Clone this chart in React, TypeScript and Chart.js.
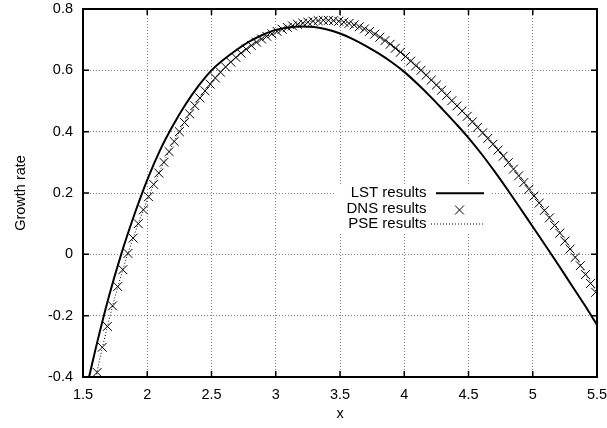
import React, { useEffect, useRef } from "react";
import { Chart, registerables } from "chart.js";

Chart.register(...registerables);

// ---- tick values ----
const xTicks = [1.5, 2, 2.5, 3, 3.5, 4, 4.5, 5, 5.5];
const yTicks = [-0.4, -0.2, 0, 0.2, 0.4, 0.6, 0.8];

// ---- series labels ----
const seriesLabels = ["LST results", "DNS results", "PSE results"];

// ---- LST results (solid line) ----
const lstX = [
  1.54, 1.55, 1.6, 1.7, 1.8, 1.9, 2.0, 2.1, 2.2, 2.3, 2.4, 2.5, 2.6, 2.7, 2.8, 2.9,
  3.0, 3.1, 3.2, 3.3, 3.4, 3.5, 3.6, 3.7, 3.8, 3.9, 4.0, 4.1, 4.2, 4.3, 4.4, 4.5,
  4.6, 4.7, 4.8, 4.9, 5.0, 5.1, 5.2, 5.3, 5.4, 5.5,
];
const lstY = [
  -0.412, -0.395, -0.305, -0.14, 0.004, 0.13, 0.243, 0.34, 0.42, 0.49, 0.55, 0.6, 0.637,
  0.668, 0.695, 0.716, 0.732, 0.74, 0.743, 0.741, 0.733, 0.72, 0.702, 0.68, 0.655, 0.627,
  0.595, 0.557, 0.516, 0.472, 0.427, 0.38, 0.328, 0.272, 0.213, 0.152, 0.09, 0.028,
  -0.035, -0.099, -0.163, -0.23,
];

// ---- DNS results (x markers) ----
const dnsX = [
  1.61, 1.65, 1.69, 1.73, 1.77, 1.81, 1.85, 1.89, 1.93, 1.97, 2.01, 2.05, 2.09, 2.13,
  2.17, 2.21, 2.25, 2.29, 2.33, 2.37, 2.41, 2.45, 2.49, 2.53, 2.57, 2.61, 2.65, 2.69,
  2.73, 2.77, 2.81, 2.85, 2.89, 2.93, 2.97, 3.01, 3.05, 3.09, 3.13, 3.17, 3.21, 3.25,
  3.29, 3.33, 3.37, 3.41, 3.45, 3.49, 3.53, 3.57, 3.61, 3.65, 3.69, 3.73, 3.77, 3.81,
  3.85, 3.89, 3.93, 3.97, 4.01, 4.05, 4.09, 4.13, 4.17, 4.21, 4.25, 4.29, 4.33, 4.37,
  4.41, 4.45, 4.49, 4.53, 4.57, 4.61, 4.65, 4.69, 4.73, 4.77, 4.81, 4.85, 4.89, 4.93,
  4.97, 5.01, 5.05, 5.09, 5.13, 5.17, 5.21, 5.25, 5.29, 5.33, 5.37, 5.41, 5.45, 5.49,
];
const dnsY = [
  -0.385, -0.303, -0.235, -0.168, -0.105, -0.05, 0.003, 0.053, 0.1, 0.145, 0.188, 0.228,
  0.265, 0.3, 0.335, 0.368, 0.4, 0.43, 0.458, 0.485, 0.51, 0.533, 0.555, 0.575, 0.594,
  0.611, 0.627, 0.642, 0.656, 0.669, 0.681, 0.692, 0.702, 0.711, 0.719, 0.727, 0.734,
  0.74, 0.745, 0.75, 0.754, 0.757, 0.76, 0.762, 0.763, 0.763, 0.762, 0.76, 0.757, 0.753,
  0.748, 0.742, 0.735, 0.727, 0.718, 0.708, 0.697, 0.685, 0.672, 0.659, 0.645, 0.63,
  0.615, 0.6, 0.584, 0.568, 0.552, 0.535, 0.518, 0.501, 0.484, 0.467, 0.45, 0.432, 0.414,
  0.396, 0.378, 0.359, 0.34, 0.32, 0.299, 0.278, 0.256, 0.234, 0.212, 0.19, 0.167, 0.143,
  0.119, 0.094, 0.069, 0.043, 0.017, -0.01, -0.037, -0.066, -0.095, -0.124,
];

// ---- PSE results (dotted line) ----
const pseX = [
  1.59, 1.6, 1.7, 1.8, 1.9, 2.0, 2.1, 2.2, 2.3, 2.4, 2.5, 2.6, 2.7, 2.8, 2.9, 3.0, 3.1,
  3.2, 3.3, 3.4, 3.5, 3.6, 3.7, 3.8, 3.9, 4.0, 4.1, 4.2, 4.3, 4.4, 4.5, 4.6, 4.7, 4.8,
  4.9, 5.0, 5.1, 5.2, 5.3, 5.4, 5.5,
];
const pseY = [
  -0.42, -0.4, -0.218, -0.064, 0.065, 0.177, 0.274, 0.36, 0.437, 0.504, 0.56, 0.607,
  0.646, 0.678, 0.704, 0.725, 0.741, 0.753, 0.761, 0.764, 0.761, 0.751, 0.736, 0.714,
  0.686, 0.653, 0.616, 0.577, 0.536, 0.493, 0.45, 0.405, 0.359, 0.309, 0.256, 0.201,
  0.142, 0.08, 0.015, -0.054, -0.126,
];

const FONT = '"Liberation Sans", Arial, Helvetica, sans-serif';
const MARKER_R = 6.3;

const toPoints = (xs: number[], ys: number[]) => xs.map((x, i) => ({ x, y: ys[i] }));

const keyPlugin = {
  id: "gnuplotKey",
  afterDatasetsDraw(chart: any) {
    const { ctx, chartArea } = chart;
    const { left, top } = chartArea;
    ctx.save();
    const textRight = left + 343.5;
    const sampleL = left + 353;
    const sampleR = left + 401;
    const rows = [top + 184.3, top + 199.5, top + 214.5];
    ctx.fillStyle = "#ffffff";
    ctx.fillRect(left + 253, top + 176, 155, 49);
    ctx.fillStyle = "#000";
    ctx.font = `15px ${FONT}`;
    ctx.textAlign = "right";
    ctx.textBaseline = "middle";
    seriesLabels.forEach((t, i) => ctx.fillText(t, textRight, rows[i]));
    ctx.strokeStyle = "#000";
    ctx.lineWidth = 2;
    ctx.setLineDash([]);
    ctx.beginPath();
    ctx.moveTo(sampleL, rows[0]);
    ctx.lineTo(sampleR, rows[0]);
    ctx.stroke();
    ctx.lineWidth = 1;
    const cx = (sampleL + sampleR) / 2 - 0.5;
    const cy = rows[1] + 1.5;
    const d = MARKER_R * Math.SQRT1_2;
    ctx.beginPath();
    ctx.moveTo(cx - d, cy - d);
    ctx.lineTo(cx + d, cy + d);
    ctx.moveTo(cx - d, cy + d);
    ctx.lineTo(cx + d, cy - d);
    ctx.stroke();
    ctx.setLineDash([1, 2]);
    ctx.beginPath();
    ctx.moveTo(sampleL - 5, rows[2] + 0.5);
    ctx.lineTo(sampleR, rows[2] + 0.5);
    ctx.stroke();
    ctx.restore();
  },
};

const tickPlugin = {
  id: "gnuplotTicks",
  afterDraw(chart: any) {
    const ctx = chart.ctx;
    const area = chart.chartArea;
    const sx = chart.scales.x;
    const sy = chart.scales.y;
    ctx.save();
    ctx.setLineDash([]);
    ctx.strokeStyle = "#000000";
    ctx.lineWidth = 1.5;
    const tl = 6;
    ctx.beginPath();
    for (const v of xTicks) {
      const px = sx.getPixelForValue(v);
      ctx.moveTo(px, area.bottom);
      ctx.lineTo(px, area.bottom - tl);
      ctx.moveTo(px, area.top);
      ctx.lineTo(px, area.top + tl);
    }
    for (const v of yTicks) {
      const py = sy.getPixelForValue(v);
      ctx.moveTo(area.left, py);
      ctx.lineTo(area.left + tl, py);
      ctx.moveTo(area.right, py);
      ctx.lineTo(area.right - tl, py);
    }
    ctx.stroke();
    ctx.restore();
  },
};

export default function App() {
  const ref = useRef<HTMLCanvasElement | null>(null);

  useEffect(() => {
    if (!ref.current) return;
    const gridStyle = { color: "rgba(0,0,0,0.5)", lineWidth: 1, drawTicks: false };
    const frameBorder = { display: true, color: "#000", width: 2, z: 2, dash: [1, 2] };
    const zeroPad = (s: any) => {
      s.paddingLeft = 0;
      s.paddingRight = 0;
      s.paddingTop = 0;
      s.paddingBottom = 0;
    };
    const chart = new Chart(ref.current, {
      type: "line",
      data: {
        datasets: [
          {
            label: seriesLabels[0],
            data: toPoints(lstX, lstY),
            xAxisID: "x",
            yAxisID: "y",
            borderColor: "#000",
            borderWidth: 2,
            pointRadius: 0,
            cubicInterpolationMode: "monotone",
            fill: false,
          },
          {
            label: seriesLabels[1],
            data: toPoints(dnsX, dnsY),
            xAxisID: "x",
            yAxisID: "y",
            showLine: false,
            borderColor: "#000",
            backgroundColor: "#000",
            pointStyle: "crossRot",
            pointRadius: MARKER_R,
            pointBorderWidth: 1,
            pointBorderColor: "#000",
          },
          {
            label: seriesLabels[2],
            data: toPoints(pseX, pseY),
            xAxisID: "x",
            yAxisID: "y",
            borderColor: "#000",
            borderWidth: 1,
            borderDash: [1, 2],
            pointRadius: 0,
            cubicInterpolationMode: "monotone",
            fill: false,
          },
        ],
      },
      options: {
        responsive: false,
        animation: false,
        events: [],
        layout: { padding: { left: 0, right: 10, top: 9, bottom: 0 } },
        plugins: { legend: { display: false }, tooltip: { enabled: false } },
        scales: {
          x: {
            type: "linear",
            position: "bottom",
            min: 1.5,
            max: 5.5,
            afterBuildTicks: (s: any) => {
              s.ticks = xTicks.map((v) => ({ value: v }));
            },
            afterFit: (s: any) => {
              s.height = 51;
              zeroPad(s);
            },
            grid: gridStyle,
            border: frameBorder,
            ticks: {
              color: "#000",
              font: { family: FONT, size: 14.5 },
              padding: 9,
              maxRotation: 0,
              autoSkip: false,
              callback: (v: any) => String(v),
            },
            title: {
              display: true,
              text: "x",
              color: "#000",
              font: { family: FONT, size: 14.5 },
              padding: { top: 0, bottom: 5 },
            },
          },
          y: {
            type: "linear",
            position: "left",
            min: -0.4,
            max: 0.8,
            afterBuildTicks: (s: any) => {
              s.ticks = yTicks.map((v) => ({ value: v }));
            },
            afterFit: (s: any) => {
              s.width = 83;
              zeroPad(s);
            },
            grid: gridStyle,
            border: frameBorder,
            ticks: {
              color: "#000",
              font: { family: FONT, size: 14.5 },
              padding: 10,
              autoSkip: false,
              callback: (v: any) => String(v),
            },
            title: {
              display: true,
              text: "Growth rate",
              color: "#000",
              font: { family: FONT, size: 14.5 },
              padding: { top: 12, bottom: 0 },
            },
          },
          x2: {
            type: "linear",
            position: "top",
            min: 1.5,
            max: 5.5,
            afterFit: (s: any) => {
              s.height = 0;
              zeroPad(s);
            },
            grid: { display: false, drawTicks: false },
            border: frameBorder,
            ticks: { display: false },
          },
          y2: {
            type: "linear",
            position: "right",
            min: -0.4,
            max: 0.8,
            afterFit: (s: any) => {
              s.width = 0;
              zeroPad(s);
            },
            grid: { display: false, drawTicks: false },
            border: frameBorder,
            ticks: { display: false },
          },
        },
      },
      plugins: [keyPlugin, tickPlugin],
    });
    return () => chart.destroy();
  }, []);

  return (
    <div style={{ position: "absolute", left: 0, top: 0, width: 607, height: 428, background: "#fff" }}>
      <canvas ref={ref} width={607} height={428} style={{ display: "block" }} />
    </div>
  );
}
